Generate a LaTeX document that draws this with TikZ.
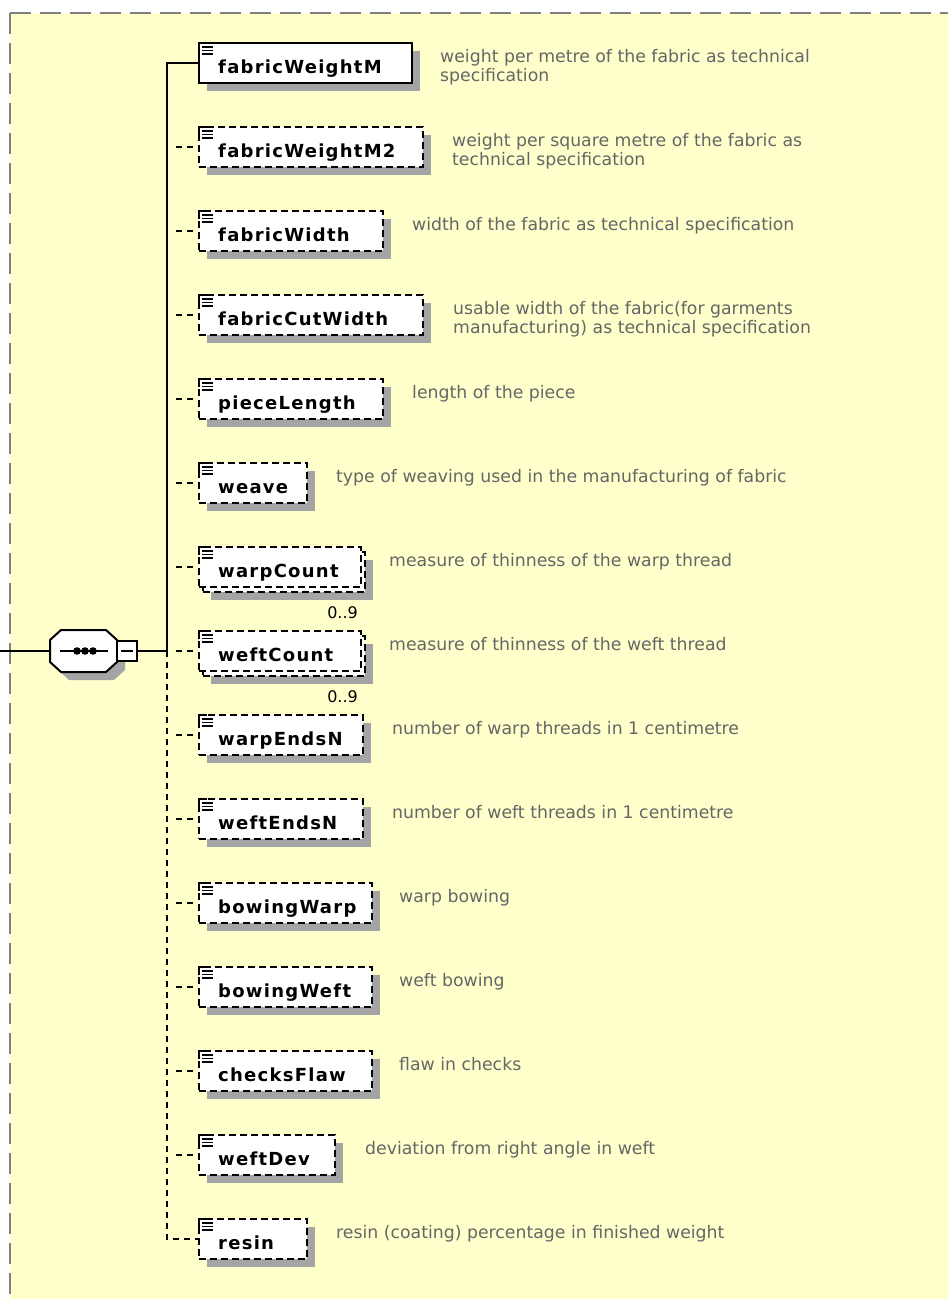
\documentclass[tikz,border=0pt]{standalone}
\usepackage{fontspec}
\setmainfont{DejaVu Sans}
\newfontfamily\lblfont[LetterSpace=7]{DejaVu Sans}
\usetikzlibrary{shadows,calc}
\definecolor{bgyellow}{HTML}{FFFFCC}
\definecolor{framegray}{HTML}{808080}
\definecolor{shadowgray}{HTML}{A4A4A4}
\definecolor{desctext}{HTML}{666666}
\tikzset{
  boxbase/.style={draw=black, line width=2pt, fill=white, minimum height=40pt,
    anchor=north west, inner sep=0pt, outer sep=0pt, rectangle},
  boxshadow/.style={drop shadow={shadow xshift=8pt, shadow yshift=-8pt, fill=shadowgray, opacity=1}},
  reqelem/.style={boxbase, boxshadow},
  optelem/.style={boxbase, boxshadow, dash pattern=on 7pt off 4pt},
  optfront/.style={boxbase, dash pattern=on 7pt off 4pt},
  lbl/.style={anchor=base west, inner sep=0pt, font=\lblfont\bfseries\fontsize{18}{20}\selectfont},
  desc/.style={anchor=base west, inner sep=0pt, text=desctext, align=left,
    font=\fontsize{17.3}{19}\selectfont},
  occur/.style={anchor=base east, inner sep=0pt, font=\fontsize{16}{18}\selectfont},
  conn/.style={line width=2pt, dash pattern=on 0pt off 9pt on 6pt off 5pt on 6pt off 20pt},
  solidconn/.style={line width=2pt},
  trunkdash/.style={line width=2pt, dash pattern=on 6pt off 5pt},
}
\newcommand\elemicon[1]{%
  \draw[line width=1.2pt] ($(#1.north west)+(3,4)$) -- ++(11,0)
     ($(#1.north west)+(3,7.5)$) -- ++(11,0)
     ($(#1.north west)+(3,11)$) -- ++(11,0);
  \draw[line width=2pt] ($(#1.north west)+(0,8)$) -- (#1.north west) -- ++(8,0);
}
\newcommand\elembox[5]{% style, index, name, label, width
  \pgfmathsetmacro\rtop{63+84*#2-20}
  \node[#1, minimum width=#5pt] (#3) at (199,\rtop) {};
  \elemicon{#3}
  \node[lbl] (#3-l) at ($(#3.south west)+(19,-10)$) {#4};
}
\newcommand\multibox[4]{% index, name, label, width
  \pgfmathsetmacro\rtop{63+84*#1-20}
  \node[optelem, minimum width=#4pt] (#2-back) at (203,\rtop+5) {};
  \node[optfront, minimum width=#4pt] (#2) at (199,\rtop) {};
  \elemicon{#2}
  \node[lbl] (#2-l) at ($(#2.south west)+(19,-10)$) {#3};
  \node[occur] (#2-o) at ($(#2.south east)+(-3,31)$) {0..9};
}
\newcommand\octpath[1]{($(#1.north west)+(11,0)$) -- ($(#1.north east)+(-11,0)$) -- ($(#1.north east)+(0,10)$) -- ($(#1.south east)+(0,-10)$) -- ($(#1.south east)+(-11,0)$) -- ($(#1.south west)+(11,0)$) -- ($(#1.south west)+(0,-10)$) -- ($(#1.north west)+(0,10)$) -- cycle}
\begin{document}
\begin{tikzpicture}[x=1pt,y=-1pt]
\useasboundingbox (0,0) rectangle (948,1299);
% background and frame
\fill[bgyellow] (10,13) rectangle (948,1299);
\draw[framegray, line width=2pt, dash pattern=on 21pt off 9pt] (10,13) -- (948,13);
\draw[framegray, line width=2pt, dash pattern=on 21pt off 9pt] (10,13) -- (10,1299);

% sequence compositor
\node[inner sep=0pt, outer sep=0pt, minimum width=67pt, minimum height=42pt] (seq) at (83.5,651) {};
\fill[shadowgray, transform canvas={shift={(8pt,-8pt)}}] \octpath{seq};
\draw[line width=2pt, fill=white] \octpath{seq};
\draw[line width=2pt] ($(seq.center)+(-24,0)$) -- ($(seq.center)+(24,0)$);
\fill ($(seq.center)+(-6.5,0)$) circle (3.8) ($(seq.center)+(1.5,0)$) circle (3.8) ($(seq.center)+(9.5,0)$) circle (3.8);
\node[draw=black, line width=1.5pt, fill=white, minimum size=20pt, inner sep=0pt, outer sep=0pt] (seqbtn) at (127,651) {};
\draw[line width=1.5pt] ($(seqbtn.center)+(-6,0)$) -- ++(12,0);
\coordinate (in) at (0,651);
\coordinate (hub) at (167,651);
\draw[solidconn] (in) -- (seq.west);
\draw[solidconn] (seqbtn.east) -- (hub);

% elements
\elembox{reqelem}{0}{e0}{fabricWeightM}{213}
\elembox{optelem}{1}{e1}{fabricWeightM2}{224}
\elembox{optelem}{2}{e2}{fabricWidth}{184}
\elembox{optelem}{3}{e3}{fabricCutWidth}{224}
\elembox{optelem}{4}{e4}{pieceLength}{184}
\elembox{optelem}{5}{e5}{weave}{108}
\multibox{6}{e6}{warpCount}{162}
\multibox{7}{e7}{weftCount}{162}
\elembox{optelem}{8}{e8}{warpEndsN}{164}
\elembox{optelem}{9}{e9}{weftEndsN}{164}
\elembox{optelem}{10}{e10}{bowingWarp}{173}
\elembox{optelem}{11}{e11}{bowingWeft}{173}
\elembox{optelem}{12}{e12}{checksFlaw}{173}
\elembox{optelem}{13}{e13}{weftDev}{136}
\elembox{optelem}{14}{e14}{resin}{108}

% connectors
\draw[solidconn] (e0.west) -| (hub);
\draw[trunkdash] (hub) |- (e14.west);
\foreach \n in {e1,e2,e3,e4,e5,e6,e7,e8,e9,e10,e11,e12,e13}
  \draw[conn] (hub |- \n.west) -- (\n.west);

% descriptions (two-line nodes are placed by their last baseline)
\node[desc] (d0) at (440,81) {weight per metre of the fabric as technical\\specification};
\node[desc] (d1) at (452,165) {weight per square metre of the fabric as\\technical specification};
\node[desc] (d2) at (412,230) {width of the fabric as technical specification};
\node[desc] (d3) at (453,333) {usable width of the fabric(for garments\\manufacturing) as technical specification};
\node[desc] (d4) at (412,398) {length of the piece};
\node[desc] (d5) at (336,482) {type of weaving used in the manufacturing of fabric};
\node[desc] (d6) at (389,566) {measure of thinness of the warp thread};
\node[desc] (d7) at (389,650) {measure of thinness of the weft thread};
\node[desc] (d8) at (392,734) {number of warp threads in 1 centimetre};
\node[desc] (d9) at (392,818) {number of weft threads in 1 centimetre};
\node[desc] (d10) at (399,902) {warp bowing};
\node[desc] (d11) at (399,986) {weft bowing};
\node[desc] (d12) at (399,1070) {flaw in checks};
\node[desc] (d13) at (365,1154) {deviation from right angle in weft};
\node[desc] (d14) at (336,1238) {resin (coating) percentage in finished weight};
\end{tikzpicture}
\end{document}
